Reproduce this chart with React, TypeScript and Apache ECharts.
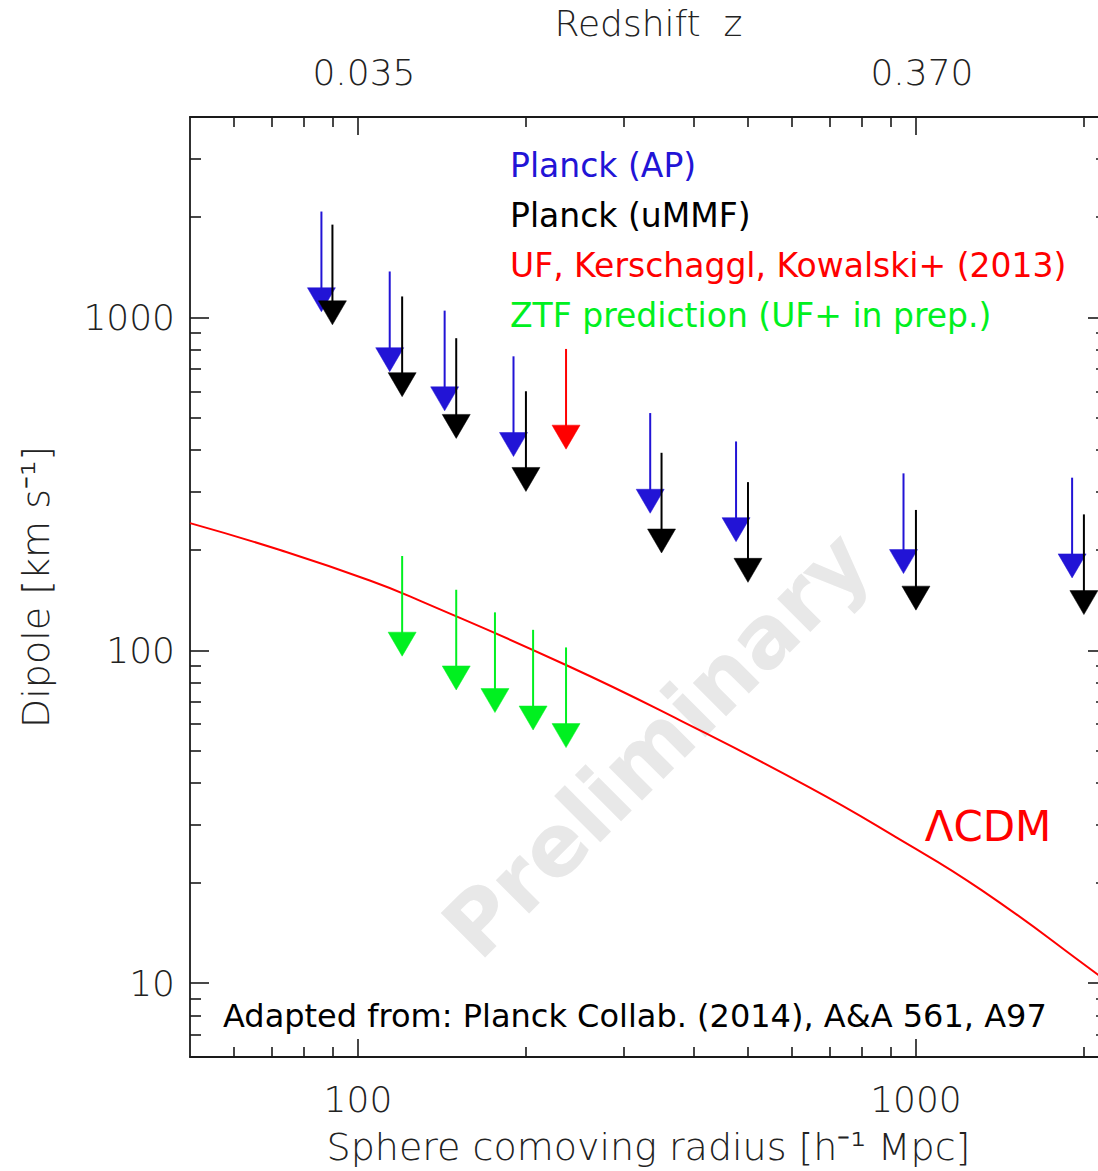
import React, { useEffect, useRef } from 'react';
import * as echarts from 'echarts';

// ---- data (radius in h^-1 Mpc, dipole upper limit in km/s at the arrow tip) ----
const planckAPRadius = [86, 114, 143, 190, 334, 476, 950, 1905];
const planckAPDipole = [1040, 687, 524, 382, 258, 212, 170, 165];
const planckUMMFRadius = [90, 120, 150, 200, 350, 500, 1000, 2000];
const planckUMMFDipole = [950, 578, 433, 300, 196, 160, 132, 128];
const ufRadius = [236];
const ufDipole = [402];
const ztfRadius = [120, 150, 176, 206, 236];
const ztfDipole = [96, 76, 65, 57.6, 51];
const lcdmRadius = [50, 72.5, 105, 129, 237, 377, 643, 919, 1313, 2120, 2200];
const lcdmDipole = [241, 200, 162, 141, 90, 61.7, 38.8, 27.5, 19.0, 10.6, 10.1];

const radiusTicks = [100, 1000];
const radiusTickLabels = ['100', '1000'];
const redshiftTickLabels = ['0.035', '0.370'];
const dipoleTicks = [10, 100, 1000];
const dipoleTickLabels = ['10', '100', '1000'];

const RADIUS_MIN = 50;
const RADIUS_MAX = 2200;
const DIPOLE_MIN = 6;
const DIPOLE_MAX = 4000;

const BLUE = '#2214d6';
const BLACK = '#000000';
const RED = '#ff0000';
const GREEN = '#00f020';

const AXIS_FONT = 'DejaVu Sans';
const L = Math.log10;

const toPts = (xs: number[], ys: number[]) => xs.map((x, i) => [L(x), L(ys[i])]);

function minorLogTicks(lo: number, hi: number, majors: number[]) {
  const out: number[] = [];
  for (let d = 1; d <= 10000; d *= 10) {
    for (let k = 1; k <= 9; k++) {
      const v = k * d;
      if (v > lo && v < hi && majors.indexOf(v) < 0) out.push(L(v));
    }
  }
  return out;
}

const ARROW_FACTOR = 2;
function arrowRenderer(color: string) {
  return (_params: any, api: any) => {
    const x = api.value(0);
    const y = api.value(1);
    const tip = api.coord([x, y]);
    const tail = api.coord([x, y + L(ARROW_FACTOR)]);
    const hw = 14;
    const hh = 24;
    return {
      type: 'group',
      children: [
        {
          type: 'line',
          shape: { x1: tip[0], y1: tail[1], x2: tip[0], y2: tip[1] - hh + 2 },
          style: { stroke: color, lineWidth: 2 },
        },
        {
          type: 'polygon',
          shape: { points: [[tip[0] - hw, tip[1] - hh], [tip[0] + hw, tip[1] - hh], [tip[0], tip[1]]] },
          style: { fill: color, stroke: color, lineWidth: 0.5 },
        },
      ],
    };
  };
}

function buildOption() {
  const xMajor = radiusTicks.map(L);
  const yMajor = dipoleTicks.map(L);
  const xMinor = minorLogTicks(RADIUS_MIN, RADIUS_MAX, radiusTicks);
  const yMinor = minorLogTicks(DIPOLE_MIN, DIPOLE_MAX, dipoleTicks);
  const pick = (vals: number[], labels: string[]) => (v: number) => {
    const i = vals.findIndex((t) => Math.abs(t - v) < 1e-6);
    return i >= 0 ? labels[i] : '';
  };
  const lineStyle = { color: '#1a1a1a', width: 1.8 };
  const tickLine = { color: '#1a1a1a', width: 1.6 };
  const labelFont = { fontFamily: AXIS_FONT, fontWeight: 200 as any, fontSize: 36, color: '#222' };
  const xBase = { type: 'value', gridIndex: 0, min: L(RADIUS_MIN), max: L(RADIUS_MAX), splitLine: { show: false } };
  const yBase = { type: 'value', gridIndex: 0, min: L(DIPOLE_MIN), max: L(DIPOLE_MAX), splitLine: { show: false } };

  return {
    animation: false,
    backgroundColor: '#ffffff',
    grid: { left: 190, top: 117, width: 917, height: 940, containLabel: false, outerBoundsMode: 'none' },
    legend: {
      show: true,
      orient: 'vertical',
      left: 500,
      top: 144,
      itemGap: 17,
      itemWidth: 0,
      itemHeight: 0,
      icon: 'none',
      selectedMode: false,
      textStyle: { fontFamily: 'DejaVu Sans', fontSize: 33 },
      data: [
        { name: 'Planck (AP)', textStyle: { color: BLUE } },
        { name: 'Planck (uMMF)', textStyle: { color: BLACK } },
        { name: 'UF, Kerschaggl, Kowalski+ (2013)', textStyle: { color: RED } },
        { name: 'ZTF prediction (UF+ in prep.)', textStyle: { color: GREEN } },
      ],
    },
    xAxis: [
      {
        ...xBase,
        position: 'bottom',
        axisLine: { show: true, onZero: false, lineStyle },
        axisTick: { show: true, inside: true, length: 18, customValues: xMajor, lineStyle: tickLine },
        axisLabel: { show: true, customValues: xMajor, formatter: pick(xMajor, radiusTickLabels), margin: 24, ...labelFont },
        name: 'Sphere comoving radius [h⁻¹ Mpc]',
        nameLocation: 'middle',
        nameGap: 71,
        nameTextStyle: { ...labelFont, fontSize: 38 },
      },
      {
        ...xBase,
        position: 'bottom',
        axisLine: { show: false, onZero: false },
        axisTick: { show: true, inside: true, length: 10, customValues: xMinor, lineStyle: tickLine },
        axisLabel: { show: false },
      },
      {
        ...xBase,
        position: 'top',
        axisLine: { show: true, onZero: false, lineStyle },
        axisTick: { show: true, inside: true, length: 18, customValues: xMajor, lineStyle: tickLine },
        axisLabel: { show: true, customValues: xMajor, formatter: pick(xMajor, redshiftTickLabels), margin: 27, padding: [0, 0, 0, 12], ...labelFont },
        name: 'Redshift  z',
        nameLocation: 'middle',
        nameGap: 76,
        nameTextStyle: { ...labelFont },
      },
      {
        ...xBase,
        position: 'top',
        axisLine: { show: false, onZero: false },
        axisTick: { show: true, inside: true, length: 10, customValues: xMinor, lineStyle: tickLine },
        axisLabel: { show: false },
      },
    ],
    yAxis: [
      {
        ...yBase,
        position: 'left',
        axisLine: { show: true, onZero: false, lineStyle },
        axisTick: { show: true, inside: true, length: 19, customValues: yMajor, lineStyle: tickLine },
        axisLabel: { show: true, customValues: yMajor, formatter: pick(yMajor, dipoleTickLabels), margin: 15, ...labelFont },
        name: 'Dipole [km s⁻¹]',
        nameLocation: 'middle',
        nameRotate: 90,
        nameGap: 135,
        nameTextStyle: { ...labelFont, fontSize: 38 },
      },
      {
        ...yBase,
        position: 'left',
        axisLine: { show: false, onZero: false },
        axisTick: { show: true, inside: true, length: 11, customValues: yMinor, lineStyle: tickLine },
        axisLabel: { show: false },
      },
      {
        ...yBase,
        position: 'right',
        axisLine: { show: true, onZero: false, lineStyle },
        axisTick: { show: true, inside: true, length: 19, customValues: yMajor, lineStyle: tickLine },
        axisLabel: { show: false },
      },
      {
        ...yBase,
        position: 'right',
        axisLine: { show: false, onZero: false },
        axisTick: { show: true, inside: true, length: 11, customValues: yMinor, lineStyle: tickLine },
        axisLabel: { show: false },
      },
    ],
    graphic: [
      {
        type: 'text',
        x: 656,
        y: 744,
        rotation: Math.PI / 4,
        z: 0,
        style: {
          text: 'Preliminary',
          fill: '#e8e8e8',
          font: 'bold 86px "DejaVu Sans"',
          textAlign: 'center',
          textVerticalAlign: 'middle',
        },
      },
      {
        type: 'text',
        x: 988,
        y: 826,
        z: 10,
        style: {
          text: 'ΛCDM',
          fill: RED,
          font: '42px "DejaVu Sans"',
          textAlign: 'center',
          textVerticalAlign: 'middle',
        },
      },
      {
        type: 'text',
        x: 223,
        y: 1016,
        z: 10,
        style: {
          text: 'Adapted from: Planck Collab. (2014), A&A 561, A97',
          fill: '#000000',
          font: '32px "DejaVu Sans"',
          textAlign: 'left',
          textVerticalAlign: 'middle',
        },
      },
    ],
    series: [
      {
        type: 'line',
        name: 'ΛCDM',
        xAxisIndex: 0,
        yAxisIndex: 0,
        data: toPts(lcdmRadius, lcdmDipole),
        smooth: 0.5,
        showSymbol: false,
        symbol: 'none',
        lineStyle: { color: RED, width: 2 },
        z: 2,
      },
      {
        type: 'custom',
        name: 'Planck (AP)',
        xAxisIndex: 0,
        yAxisIndex: 0,
        renderItem: arrowRenderer(BLUE),
        data: toPts(planckAPRadius, planckAPDipole),
        encode: { x: 0, y: 1 },
        itemStyle: { color: BLUE },
        clip: false,
        z: 3,
      },
      {
        type: 'custom',
        name: 'Planck (uMMF)',
        xAxisIndex: 0,
        yAxisIndex: 0,
        renderItem: arrowRenderer(BLACK),
        data: toPts(planckUMMFRadius, planckUMMFDipole),
        encode: { x: 0, y: 1 },
        itemStyle: { color: BLACK },
        clip: false,
        z: 4,
      },
      {
        type: 'custom',
        name: 'UF, Kerschaggl, Kowalski+ (2013)',
        xAxisIndex: 0,
        yAxisIndex: 0,
        renderItem: arrowRenderer(RED),
        data: toPts(ufRadius, ufDipole),
        encode: { x: 0, y: 1 },
        itemStyle: { color: RED },
        clip: false,
        z: 4,
      },
      {
        type: 'custom',
        name: 'ZTF prediction (UF+ in prep.)',
        xAxisIndex: 0,
        yAxisIndex: 0,
        renderItem: arrowRenderer(GREEN),
        data: toPts(ztfRadius, ztfDipole),
        encode: { x: 0, y: 1 },
        itemStyle: { color: GREEN },
        clip: false,
        z: 4,
      },
    ],
  };
}

export default function App() {
  const ref = useRef<HTMLDivElement>(null);
  useEffect(() => {
    if (!ref.current) return;
    const chart = echarts.init(ref.current, null, { renderer: 'svg' });
    chart.setOption(buildOption() as any);
    return () => {
      chart.dispose();
    };
  }, []);
  return (
    <div
      ref={ref}
      style={{ position: 'absolute', left: 0, top: 0, width: 1098, height: 1171, background: '#ffffff' }}
    />
  );
}
